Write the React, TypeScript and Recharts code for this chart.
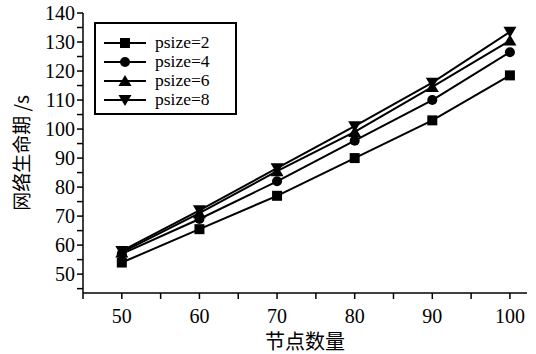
import React from 'react';
import { LineChart, Line, XAxis, YAxis } from 'recharts';

const nodes = [50, 60, 70, 80, 90, 100];
const psize2 = [54, 65.5, 77, 90, 103, 118.5];
const psize4 = [57, 69, 82, 96, 110, 126.5];
const psize6 = [57.5, 71, 85.5, 99, 114.5, 130.5];
const psize8 = [58, 72, 86.5, 101, 116, 133.5];

const xTicks = [45, 50, 55, 60, 65, 70, 75, 80, 85, 90, 95, 100];
const yTicks = [45, 50, 55, 60, 65, 70, 75, 80, 85, 90, 95, 100, 105, 110, 115, 120, 125, 130, 135, 140];

const SERIES = [
  { key: 'p2', name: 'psize=2', shape: 'square' },
  { key: 'p4', name: 'psize=4', shape: 'circle' },
  { key: 'p6', name: 'psize=6', shape: 'up' },
  { key: 'p8', name: 'psize=8', shape: 'down' },
];

const data = nodes.map((n, i) => ({ n, p2: psize2[i], p4: psize4[i], p6: psize6[i], p8: psize8[i] }));

const SERIF = { fontFamily: '"Liberation Serif", "Times New Roman", "DejaVu Serif", serif' };
const CJK = { fontFamily: '"Noto Sans CJK SC", sans-serif' };

function Marker({ shape, cx, cy }: { shape: string; cx: number; cy: number }) {
  if (shape === 'square') return <rect x={cx - 5} y={cy - 5} width={10} height={10} fill="#000" />;
  if (shape === 'circle') return <circle cx={cx} cy={cy} r={5} fill="#000" />;
  if (shape === 'up')
    return <polygon points={`${cx},${cy - 6} ${cx - 6.5},${cy + 5} ${cx + 6.5},${cy + 5}`} fill="#000" />;
  return <polygon points={`${cx},${cy + 6} ${cx - 6.5},${cy - 5} ${cx + 6.5},${cy - 5}`} fill="#000" />;
}

const makeDot = (shape: string) => (props: any) => {
  const { cx, cy, index } = props;
  if (cx == null || cy == null) return <g key={index} />;
  return <Marker key={index} shape={shape} cx={cx} cy={cy} />;
};

// legend box drawn on top of the plot, top-left corner
function LegendBox() {
  return (
    <svg width={144} height={94} style={{ position: 'absolute', left: 94, top: 22 }}>
      <rect x={1} y={1} width={141} height={91} fill="#fff" stroke="#000" strokeWidth={2} />
      {SERIES.map((s, i) => {
        const y = 21 + i * 19;
        return (
          <g key={s.key}>
            <line x1={10} x2={52} y1={y} y2={y} stroke="#000" strokeWidth={2} />
            <Marker shape={s.shape} cx={31} cy={y} />
            <text x={61} y={y + 5} style={SERIF} fontSize={17.5} fill="#000">
              {s.name}
            </text>
          </g>
        );
      })}
    </svg>
  );
}

const yTick = (props: any) => {
  const { x, y, payload } = props;
  if (payload.value % 10 !== 0) return <g />;
  return (
    <text x={x} y={y + 7} textAnchor="end" style={SERIF} fontSize={20} fill="#000">
      {payload.value}
    </text>
  );
};

const xTick = (props: any) => {
  const { x, y, payload } = props;
  if (payload.value % 10 !== 0) return <g />;
  return (
    <text x={x} y={y + 22} textAnchor="middle" style={SERIF} fontSize={20} fill="#000">
      {payload.value}
    </text>
  );
};

export default function App() {
  return (
    <div style={{ position: 'absolute', left: 0, top: 0, width: 536, height: 354, background: '#fff' }}>
      <LineChart width={536} height={354} data={data} margin={{ top: 13, right: 9, bottom: 0, left: 0 }}>
        <XAxis
          dataKey="n"
          type="number"
          domain={[45, 102.2]}
          ticks={xTicks}
          height={61}
          stroke="#000"
          strokeWidth={1.5}
          tickSize={6}
          tick={xTick}
          interval={0}
          label={{
            content: () => (
              <text x={305} y={349} textAnchor="middle" style={CJK} fontSize={20} fill="#000">
                节点数量
              </text>
            ),
          }}
        />
        <XAxis xAxisId="top" dataKey="n" type="number" domain={[45, 102.2]} orientation="top" height={0} tick={false} tickLine={false} stroke="#000" strokeWidth={1.5} />
        <YAxis
          type="number"
          domain={[43.5, 140]}
          ticks={yTicks}
          width={83}
          stroke="#000"
          strokeWidth={1.5}
          tickSize={6}
          tick={yTick}
          interval={0}
          label={{
            content: () => (
              <text x={29} y={153} textAnchor="middle" transform="rotate(-90 29 153)" style={CJK} fontSize={19} fill="#000">
                网络生命期 /s
              </text>
            ),
          }}
        />
        <YAxis yAxisId="right" orientation="right" domain={[43.5, 140]} width={0} tick={false} tickLine={false} stroke="#000" strokeWidth={1.5} />
        {SERIES.map((s) => (
          <Line
            key={s.key}
            dataKey={s.key}
            name={s.name}
            stroke="#000"
            strokeWidth={2}
            dot={makeDot(s.shape)}
            activeDot={false}
            isAnimationActive={false}
          />
        ))}
      </LineChart>
      <LegendBox />
    </div>
  );
}
